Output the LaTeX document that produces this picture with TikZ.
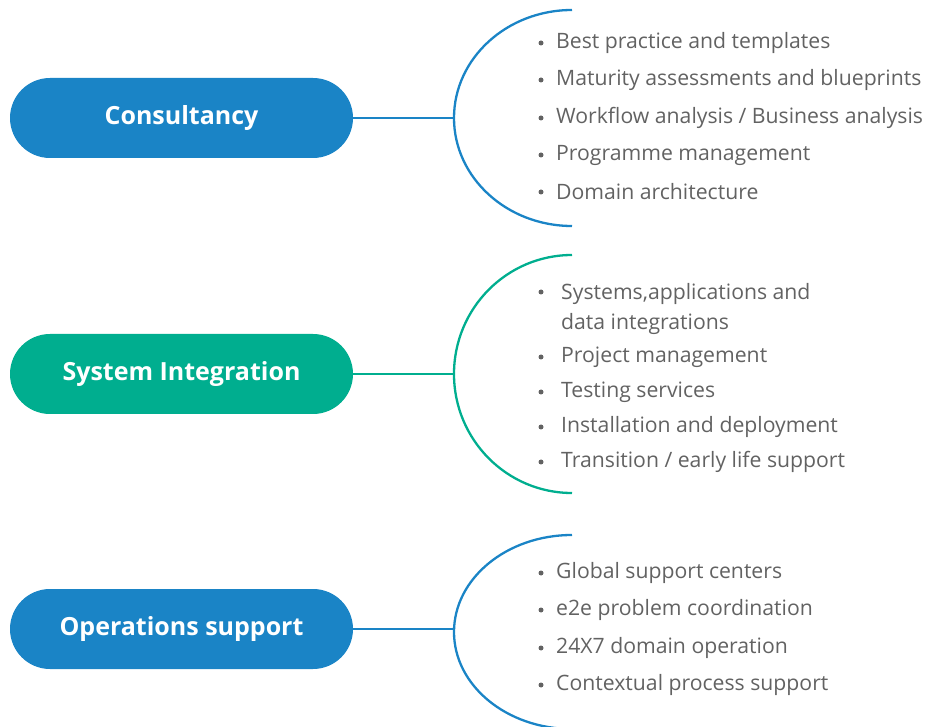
\documentclass[tikz,border=0pt]{standalone}
\usepackage{fontspec}
\setmainfont{Open Sans}
\definecolor{brandblue}{HTML}{1A84C6}
\definecolor{brandgreen}{HTML}{00AE8F}
\definecolor{itemgray}{HTML}{626262}
\tikzset{
	pill/.style = {fill = #1, text = white, rounded corners = 40pt, minimum width = 343pt,
		minimum height = 80pt, font = \fontsize{25}{30}\selectfont\bfseries},
	itemtext/.style = {anchor = west, inner sep = 0pt, text = itemgray,
		font = \fontsize{21.2}{30}\selectfont, align = left},
	branch/.style = {draw = #1, line width = 2.3pt}
}
\begin{document}
\begin{tikzpicture}[x = 1pt, y = -1pt]
	\useasboundingbox (0, 0) rectangle (930, 727);
	% left pills
	\node[pill = brandblue] (cons) at (181.5, 118) {Consultancy};
	\node[pill = brandgreen] (sysint) at (181.5, 374) {System Integration};
	\node[pill = brandblue] (ops) at (181.5, 629) {Operations support};
	% arcs
	\coordinate (consarc) at (454, 118);
	\coordinate (sysarc) at (454, 374);
	\coordinate (opsarc) at (454, 629);
	\draw[branch = brandblue] (572, 10) arc[start angle = 270, end angle = 90, x radius = 118, y radius = 108];
	\draw[branch = brandgreen] (572, 255) arc[start angle = 270, end angle = 90, x radius = 118, y radius = 119];
	\draw[branch = brandblue] (572, 535) arc[start angle = 270, end angle = 90, x radius = 118, y radius = 97];
	\draw[branch = brandblue] (cons.east) -- (consarc);
	\draw[branch = brandgreen] (sysint.east) -- (sysarc);
	\draw[branch = brandblue] (ops.east) -- (opsarc);
	% consultancy items
	\foreach \y/\txt [count = \i] in {43/Best practice and templates, 80/Maturity assessments and blueprints,
		118/{Workflow analysis / Business analysis}, 155/Programme management, 192/Domain architecture} {
		\fill[itemgray] (541, \y) circle (2.5);
		\node[itemtext] (consitem\i) at (556, \y) {\txt};
	}
	% system integration items
	\fill[itemgray] (541, 292) circle (2.5);
	\node[itemtext, anchor = north west] (sysitem1) at (561, 283) {Systems,applications and\\data integrations};
	\foreach \y/\txt [count = \i from 2] in {357/Project management, 392/Testing services,
		427/Installation and deployment, 462/{Transition / early life support}} {
		\fill[itemgray] (541, \y) circle (2.5);
		\node[itemtext] (sysitem\i) at (561, \y) {\txt};
	}
	% operations items
	\foreach \y/\txt [count = \i] in {573/Global support centers, 610/e2e problem coordination,
		648/24X7 domain operation, 685/Contextual process support} {
		\fill[itemgray] (541, \y) circle (2.5);
		\node[itemtext] (opsitem\i) at (556, \y) {\txt};
	}
\end{tikzpicture}
\end{document}
